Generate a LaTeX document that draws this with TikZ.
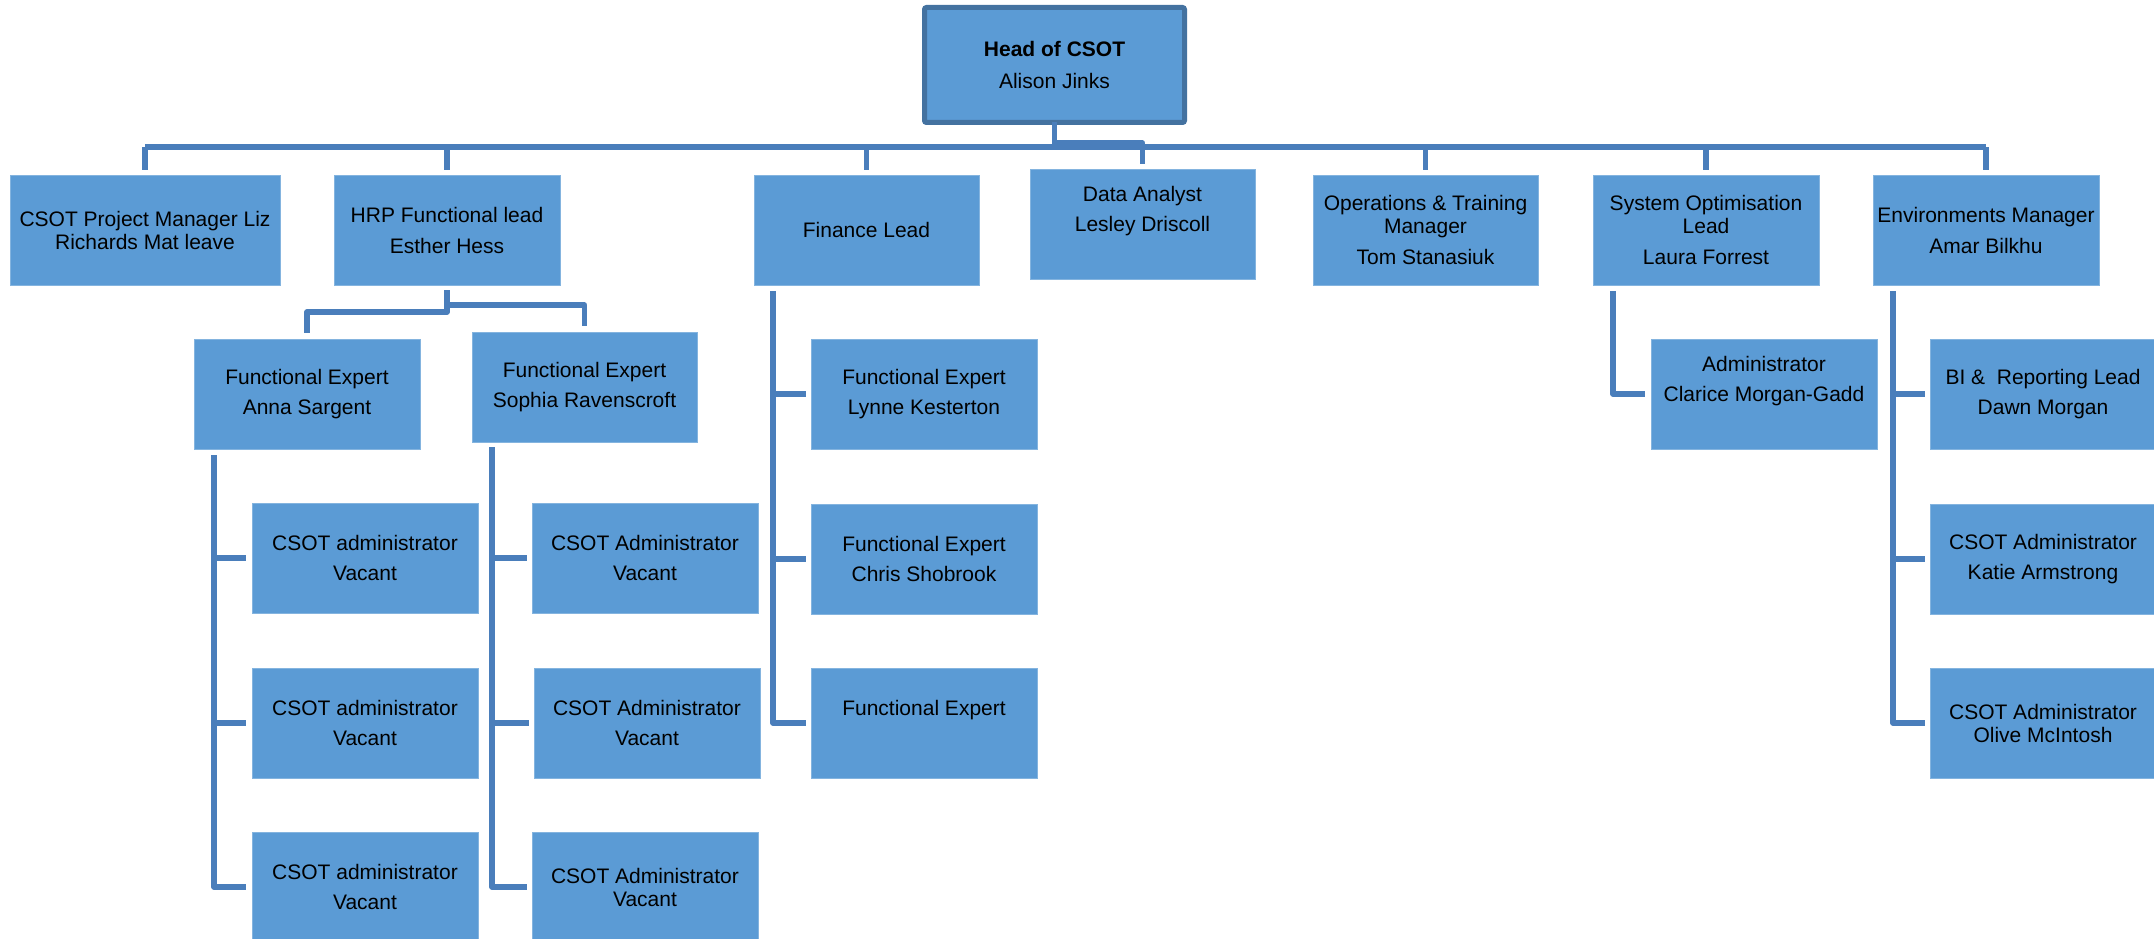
\documentclass[tikz,border=0pt]{standalone}
\usepackage{fontspec}
\setmainfont{Liberation Sans}
\usetikzlibrary{calc}
\definecolor{boxfill}{RGB}{91,155,213}
\definecolor{conncol}{RGB}{74,126,187}
\definecolor{headborder}{RGB}{68,114,160}
\tikzset{
  box/.style={anchor=north west, fill=boxfill, draw=boxfill!75!white, line width=1pt,
    inner sep=0pt, outer sep=0pt, align=center, text=black,
    font=\fontsize{21}{23}\selectfont, minimum width=226pt, minimum height=110pt},
  headbox/.style={box, draw=headborder, line width=5pt, rounded corners=2pt,
    minimum width=260pt, minimum height=115pt},
  conn/.style={draw=conncol, line width=5.5pt, line join=round},
}
\begin{document}
\begin{tikzpicture}[x=1pt,y=-1pt]
\useasboundingbox (0,0) rectangle (2154,939);
% top
\node[headbox] (head) at (924.5,7.5) {\textbf{Head of CSOT}\\[9pt]Alison Jinks};
% level 1
\node[box, minimum width=270pt] (pm) at (10,175) {CSOT Project Manager Liz\\Richards Mat leave};
\node[box] (hrp) at (334,175) {HRP Functional lead\\[8pt]Esther Hess};
\node[box, minimum width=225pt] (fin) at (754,175) {Finance Lead};
\node[box, minimum width=225pt] (da) at (1030,169) {Data Analyst\\[7pt]Lesley Driscoll\\[7pt]~};
\node[box, minimum width=225pt] (ops) at (1313,175) {Operations \& Training\\Manager\\[8pt]Tom Stanasiuk};
\node[box] (sys) at (1593,175) {System Optimisation\\Lead\\[8pt]Laura Forrest};
\node[box] (env) at (1873,175) {Environments Manager\\[8pt]Amar Bilkhu};
% HRP children
\node[box] (anna) at (194,339) {Functional Expert\\[7pt]Anna Sargent};
\node[box, minimum width=225pt] (sophia) at (472,332) {Functional Expert\\[7pt]Sophia Ravenscroft};
\node[box] (a1) at (252,503) {CSOT administrator\\[7pt]Vacant};
\node[box] (a2) at (252,668) {CSOT administrator\\[7pt]Vacant};
\node[box] (a3) at (252,832) {CSOT administrator\\[7pt]Vacant};
\node[box] (s1) at (532,503) {CSOT Administrator\\[7pt]Vacant};
\node[box] (s2) at (534,668) {CSOT Administrator\\[7pt]Vacant};
\node[box] (s3) at (532,832) {CSOT Administrator\\Vacant};
% finance children
\node[box] (f1) at (811,339) {Functional Expert\\[7pt]Lynne Kesterton};
\node[box] (f2) at (811,504) {Functional Expert\\[7pt]Chris Shobrook};
\node[box] (f3) at (811,668) {Functional Expert\\[7pt]~};
% system optimisation child
\node[box] (adm) at (1651,339) {Administrator\\[7pt]Clarice Morgan-Gadd\\[7pt]~};
% environments children
\node[box] (e1) at (1930,339) {BI \&~ Reporting Lead\\[7pt]Dawn Morgan};
\node[box] (e2) at (1930,504) {CSOT Administrator\\[7pt]Katie Armstrong};
\node[box] (e3) at (1930,668) {CSOT Administrator\\Olive McIntosh};

% connectors
\coordinate (busy) at (0,147);
\coordinate (stepy) at (0,143);
\draw[conn] (pm.north |- busy) -- (env.north |- busy);
\draw[conn] (head.south) -- (head.south |- busy);
\draw[conn] (head.south |- stepy) -| ([yshift=5pt]da.north);
\foreach \n in {pm,hrp,fin,ops,sys,env}{
  \draw[conn] (\n.north |- busy) -- ([yshift=5pt]\n.north);
}
% HRP to functional experts
\coordinate (hly) at (0,312);
\coordinate (hry) at (0,305);
\draw[conn] ([yshift=-5pt]hrp.south) -- (hrp.south |- hly) -| ([yshift=6pt]anna.north);
\draw[conn] (hrp.south |- hry) -| ([yshift=6pt]sophia.north);
% Anna column
\draw[conn] ($(anna.south west)+(20,6)$) coordinate (av) |- ([xshift=-6pt]a3.west);
\draw[conn] (av |- a1.west) -- ([xshift=-6pt]a1.west);
\draw[conn] (av |- a2.west) -- ([xshift=-6pt]a2.west);
% Sophia column
\draw[conn] ($(sophia.south west)+(20,5)$) coordinate (sv) |- ([xshift=-5pt]s3.west);
\draw[conn] (sv |- s1.west) -- ([xshift=-5pt]s1.west);
\draw[conn] (sv |- s2.west) -- ([xshift=-5pt]s2.west);
% Finance column
\draw[conn] ($(fin.south west)+(19,6)$) coordinate (fv) |- ([xshift=-5pt]f3.west);
\draw[conn] (fv |- f1.west) -- ([xshift=-5pt]f1.west);
\draw[conn] (fv |- f2.west) -- ([xshift=-5pt]f2.west);
% System optimisation
\draw[conn] ($(sys.south west)+(20,6)$) |- ([xshift=-6pt]adm.west);
% Environments column
\draw[conn] ($(env.south west)+(20,6)$) coordinate (ev) |- ([xshift=-5pt]e3.west);
\draw[conn] (ev |- e1.west) -- ([xshift=-5pt]e1.west);
\draw[conn] (ev |- e2.west) -- ([xshift=-5pt]e2.west);
\end{tikzpicture}
\end{document}
